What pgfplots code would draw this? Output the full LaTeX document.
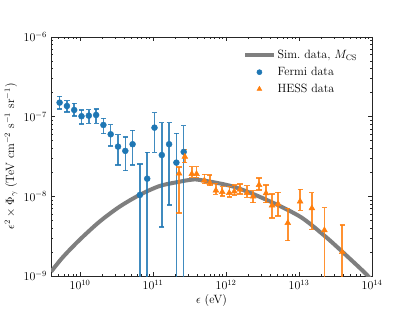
\documentclass[border=0pt]{standalone}
\usepackage{pgfplots}
\pgfplotsset{compat=1.18}
\usepackage{pgfplotstable}
\definecolor{fermi}{RGB}{31,119,180}
\definecolor{hess}{RGB}{255,127,14}
\definecolor{simgray}{RGB}{127,127,127}

\pgfplotsset{
  lineleg/.style={legend image code/.code={\draw[##1] (0cm,0cm) -- (1cm,0cm);}},
  markleg/.style={legend image code/.code={\draw[##1, mark size=#1] plot coordinates {(0.5cm,0cm)};}},
}

\pgfplotstableread{
x y
4.018e9 1.135e-9
5.808e9 1.722e-9
9.84e9 2.838e-9
1.854e10 4.819e-9
3.491e10 7.430e-9
6.561e10 1.042e-8
1.236e11 1.349e-8
2.328e11 1.528e-8
3.192e11 1.607e-8
4.375e11 1.607e-8
1.256e12 1.324e-8
3.614e12 9.02e-9
1.035e13 5.56e-9
2.163e13 3.28e-9
3.673e13 2.13e-9
8.53e13 1.033e-9
1e14 8.3e-10
}\simdata

\pgfplotstableread{
x y hi lo
5.25e9 1.500e-7 1.803e-7 1.250e-7
6.61e9 1.361e-7 1.589e-7 1.146e-7
8.32e9 1.213e-7 1.472e-7 1.021e-7
1.047e10 1.012e-7 1.213e-7 8.09e-8
1.318e10 1.030e-7 1.225e-7 8.26e-8
1.660e10 1.050e-7 1.250e-7 8.26e-8
2.089e10 7.87e-8 9.55e-8 6.12e-8
2.630e10 6.01e-8 7.94e-8 4.29e-8
3.311e10 4.21e-8 5.94e-8 2.48e-8
4.169e10 3.72e-8 5.56e-8 2.11e-8
5.248e10 4.51e-8 6.78e-8 2.48e-8
6.607e10 1.042e-8 2.55e-8 1e-12
8.318e10 1.667e-8 3.57e-8 1e-12
1.047e11 7.28e-8 1.122e-7 3.57e-8
1.318e11 3.30e-8 8.41e-8 4.13e-9
1.660e11 4.51e-8 8.41e-8 7.80e-9
2.089e11 2.65e-8 6.19e-8 1e-12
2.630e11 3.61e-8 7.71e-8 1e-12
}\fermidata

\pgfplotstableread{
x y hi lo
2.275e11 1.936e-8 2.339e-8 6.19e-9
2.723e11 3.148e-8 3.90e-8 2.65e-8
3.396e11 1.910e-8 2.36e-8 1.738e-8
3.945e11 1.910e-8 2.36e-8 1.738e-8
5.047e11 1.585e-8 1.892e-8 1.442e-8
6.012e11 1.472e-8 1.858e-8 1.361e-8
7.261e11 1.186e-8 1.459e-8 1.062e-8
8.872e11 1.135e-8 1.324e-8 1.012e-8
1.107e12 1.104e-8 1.324e-8 9.82e-9
1.297e12 1.151e-8 1.390e-8 1.042e-8
1.552e12 1.222e-8 1.432e-8 1.072e-8
1.936e12 1.104e-8 1.361e-8 9.75e-9
2.344e12 9.98e-9 1.180e-8 8.34e-9
2.831e12 1.390e-8 1.702e-8 1.202e-8
3.532e12 1.094e-8 1.390e-8 8.34e-9
4.266e12 7.69e-9 1.072e-8 5.36e-9
5.164e12 8.04e-9 1.119e-8 5.68e-9
7.015e12 4.63e-9 7.10e-9 2.78e-9
1.035e13 8.63e-9 1.227e-8 6.65e-9
1.500e13 7.10e-9 1.112e-8 3.86e-9
2.228e13 3.76e-9 7.21e-9 1e-12
3.908e13 2.00e-9 4.38e-9 1e-12
}\hessdata

\begin{document}
\fontsize{12}{14}\selectfont
\begin{tikzpicture}[x=1pt,y=1pt]
\useasboundingbox (0,0) rectangle (413,310);
\begin{axis}[
  at={(51pt,34pt)}, anchor=south west,
  scale only axis, width=321pt, height=239pt,
  xmode=log, ymode=log,
  xmin=4e9, xmax=1e14, ymin=1e-9, ymax=1e-6,
  tick align=inside,
  axis line style={line width=0.8pt, black!85},
  major tick length=4pt, minor tick length=2.2pt,
  every tick/.style={black!85, line width=0.6pt},
  xlabel={$\epsilon$ (eV)},
  ylabel={$\epsilon^2\times\Phi_\gamma$ (TeV cm$^{-2}$ s$^{-1}$ sr$^{-1}$)},
  tick label style={font=\fontsize{12}{14}\selectfont},
  label style={font=\fontsize{12}{14}\selectfont},
  xlabel style={yshift=3pt},
  ylabel style={yshift=-2pt},
  legend style={draw=none, fill=none, at={(0.97,0.962)}, anchor=north east,
    font=\fontsize{12}{14}\selectfont, row sep=2.6pt, cells={anchor=west}},
  legend cell align=left,
]
\addplot[simgray, line width=4pt, smooth, no marks, lineleg]
  table[x=x,y=y]{\simdata};
\addlegendentry{Sim.\ data, $M_{\mathrm{CS}}$}

\addplot[fermi, only marks, mark=*, mark size=3pt,
  mark options={draw=fermi, fill=fermi}, markleg=2.6pt,
  error bars/.cd, y dir=both, y explicit,
  error bar style={line width=1.5pt, fermi, opacity=0.85},
  error mark options={rotate=90, mark size=2.6pt, line width=1.2pt, fermi, opacity=0.85}]
  table[x=x, y=y, y error plus expr=\thisrow{hi}-\thisrow{y},
        y error minus expr=\thisrow{y}-\thisrow{lo}]{\fermidata};
\addlegendentry{Fermi data}

\addplot[hess, only marks, mark=triangle*, mark size=3.4pt,
  mark options={draw=hess, fill=hess}, markleg=2.8pt,
  error bars/.cd, y dir=both, y explicit,
  error bar style={line width=1.5pt, hess, opacity=0.85},
  error mark options={rotate=90, mark size=2.6pt, line width=1.2pt, hess, opacity=0.85}]
  table[x=x, y=y, y error plus expr=\thisrow{hi}-\thisrow{y},
        y error minus expr=\thisrow{y}-\thisrow{lo}]{\hessdata};
\addlegendentry{HESS data}
\end{axis}
\end{tikzpicture}
\end{document}
